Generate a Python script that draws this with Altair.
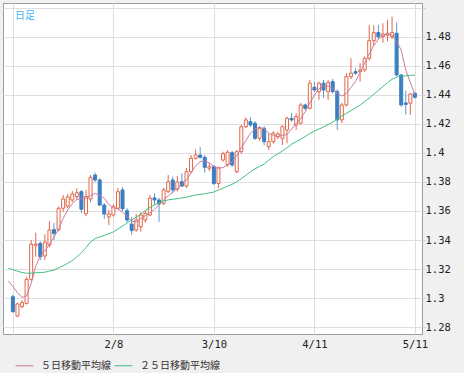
import altair as alt
import pandas as pd

# ---- data ----
idx = list(range(89))
opens = [1.3009, 1.2876, 1.2941, 1.2963, 1.3129, 1.3363, 1.3377, 1.3290, 1.3366, 1.3472,
         1.3469, 1.3619, 1.3634, 1.3676, 1.3699, 1.3733, 1.3580, 1.3683, 1.3848, 1.3814,
         1.3641, 1.3559, 1.3572, 1.3619, 1.3745, 1.3602, 1.3510, 1.3469, 1.3491, 1.3538,
         1.3572, 1.3690, 1.3676, 1.3653, 1.3733, 1.3814, 1.3750, 1.3802, 1.3772, 1.3871,
         1.3963, 1.3986, 1.3970, 1.3895, 1.3906, 1.3790, 1.3952, 1.3920, 1.4002, 1.3871,
         1.4009, 1.4181, 1.4216, 1.4205, 1.4101, 1.4170, 1.4043, 1.4078, 1.4112, 1.4101,
         1.4159, 1.4239, 1.4193, 1.4205, 1.4331, 1.4308, 1.4453, 1.4423, 1.4481, 1.4423,
         1.4492, 1.4423, 1.4228, 1.4331, 1.4526, 1.4561, 1.4561, 1.4572, 1.4653, 1.4774,
         1.4830, 1.4802, 1.4812, 1.4802, 1.4825, 1.4538, 1.4345, 1.4343, 1.4412]
highs = [1.3022, 1.2968, 1.2986, 1.3145, 1.3400, 1.3450, 1.3390, 1.3440, 1.3530, 1.3517,
         1.3630, 1.3710, 1.3717, 1.3738, 1.3757, 1.3745, 1.3745, 1.3848, 1.3864, 1.3825,
         1.3655, 1.3607, 1.3648, 1.3759, 1.3765, 1.3620, 1.3560, 1.3579, 1.3590, 1.3600,
         1.3710, 1.3722, 1.3690, 1.3760, 1.3848, 1.3837, 1.3840, 1.3860, 1.3897, 1.3986,
         1.4025, 1.4040, 1.3985, 1.3930, 1.3917, 1.3905, 1.4009, 1.4020, 1.4015, 1.4020,
         1.4195, 1.4244, 1.4246, 1.4220, 1.4185, 1.4185, 1.4136, 1.4150, 1.4145, 1.4190,
         1.4250, 1.4274, 1.4274, 1.4345, 1.4340, 1.4503, 1.4492, 1.4492, 1.4503, 1.4503,
         1.4510, 1.4440, 1.4345, 1.4550, 1.4653, 1.4584, 1.4619, 1.4665, 1.4883, 1.4880,
         1.4883, 1.4894, 1.4917, 1.4940, 1.4900, 1.4545, 1.4430, 1.4412, 1.4420]
lows = [1.2898, 1.2867, 1.2930, 1.2955, 1.3120, 1.3285, 1.3262, 1.3262, 1.3350, 1.3400,
        1.3460, 1.3593, 1.3620, 1.3660, 1.3680, 1.3586, 1.3565, 1.3660, 1.3800, 1.3635,
        1.3545, 1.3503, 1.3560, 1.3612, 1.3600, 1.3520, 1.3435, 1.3457, 1.3457, 1.3520,
        1.3565, 1.3641, 1.3526, 1.3640, 1.3725, 1.3722, 1.3735, 1.3765, 1.3760, 1.3860,
        1.3955, 1.3960, 1.3865, 1.3875, 1.3779, 1.3757, 1.3940, 1.3905, 1.3905, 1.3860,
        1.3995, 1.4170, 1.4180, 1.4090, 1.4085, 1.4055, 1.4021, 1.4065, 1.4095, 1.4055,
        1.4067, 1.4216, 1.4159, 1.4195, 1.4295, 1.4300, 1.4423, 1.4366, 1.4377, 1.4366,
        1.4410, 1.4159, 1.4205, 1.4320, 1.4510, 1.4538, 1.4492, 1.4560, 1.4640, 1.4740,
        1.4780, 1.4760, 1.4770, 1.4785, 1.4530, 1.4320, 1.4265, 1.4262, 1.4375]
closes = [1.2906, 1.2959, 1.2968, 1.3129, 1.3370, 1.3372, 1.3285, 1.3386, 1.3469, 1.3445,
          1.3619, 1.3683, 1.3697, 1.3717, 1.3726, 1.3612, 1.3700, 1.3832, 1.3814, 1.3641,
          1.3579, 1.3579, 1.3630, 1.3733, 1.3615, 1.3538, 1.3465, 1.3538, 1.3572, 1.3584,
          1.3688, 1.3676, 1.3648, 1.3745, 1.3802, 1.3745, 1.3800, 1.3772, 1.3871, 1.3963,
          1.3986, 1.3970, 1.3901, 1.3905, 1.3790, 1.3897, 1.3995, 1.4005, 1.3917, 1.4009,
          1.4181, 1.4228, 1.4193, 1.4101, 1.4170, 1.4078, 1.4078, 1.4136, 1.4131, 1.4181,
          1.4239, 1.4228, 1.4251, 1.4331, 1.4308, 1.4481, 1.4434, 1.4481, 1.4434, 1.4485,
          1.4423, 1.4228, 1.4331, 1.4526, 1.4550, 1.4550, 1.4572, 1.4653, 1.4774, 1.4830,
          1.4802, 1.4820, 1.4825, 1.4830, 1.4538, 1.4331, 1.4335, 1.4407, 1.4384]

ma_idx = list(range(-1, 89))
ma5 = [1.3119, 1.3079, 1.3037, 1.3004, 1.3016, 1.3100, 1.3220, 1.3290, 1.3325, 1.3373,
       1.3419, 1.3477, 1.3548, 1.3607, 1.3649, 1.3680, 1.3687, 1.3688, 1.3706, 1.3721,
       1.3709, 1.3688, 1.3645, 1.3622, 1.3614, 1.3592, 1.3562, 1.3529, 1.3524, 1.3549,
       1.3568, 1.3587, 1.3610, 1.3644, 1.3677, 1.3703, 1.3730, 1.3755, 1.3785, 1.3811,
       1.3865, 1.3911, 1.3939, 1.3945, 1.3932, 1.3907, 1.3896, 1.3899, 1.3918, 1.3941,
       1.3981, 1.4036, 1.4086, 1.4135, 1.4167, 1.4179, 1.4167, 1.4136, 1.4121, 1.4113,
       1.4122, 1.4127, 1.4165, 1.4203, 1.4236, 1.4285, 1.4345, 1.4399, 1.4443, 1.4462,
       1.4460, 1.4448, 1.4411, 1.4393, 1.4410, 1.4451, 1.4494, 1.4554, 1.4619, 1.4682,
       1.4741, 1.4784, 1.4810, 1.4821, 1.4813, 1.4770, 1.4709, 1.4572, 1.4488, 1.4400]
ma25 = [1.3205, 1.3195, 1.3185, 1.3176, 1.3171, 1.3172, 1.3174, 1.3176, 1.3178, 1.3186,
        1.3193, 1.3208, 1.3222, 1.3240, 1.3257, 1.3284, 1.3313, 1.3347, 1.3386, 1.3410,
        1.3421, 1.3432, 1.3443, 1.3456, 1.3476, 1.3496, 1.3518, 1.3539, 1.3558, 1.3578,
        1.3604, 1.3624, 1.3642, 1.3657, 1.3669, 1.3677, 1.3681, 1.3685, 1.3690, 1.3695,
        1.3703, 1.3710, 1.3714, 1.3719, 1.3725, 1.3731, 1.3744, 1.3758, 1.3771, 1.3784,
        1.3802, 1.3823, 1.3846, 1.3870, 1.3891, 1.3907, 1.3924, 1.3950, 1.3975, 1.3994,
        1.4013, 1.4036, 1.4060, 1.4078, 1.4094, 1.4113, 1.4134, 1.4152, 1.4165, 1.4179,
        1.4196, 1.4213, 1.4234, 1.4255, 1.4273, 1.4292, 1.4311, 1.4330, 1.4354, 1.4379,
        1.4405, 1.4431, 1.4458, 1.4485, 1.4508, 1.4523, 1.4529, 1.4532, 1.4535, 1.4537]

tick_idx = [0, 22, 44, 66, 88]
tick_labels = ["", "2/8", "3/10", "4/11", "5/11"]
y_ticks = [1.28, 1.30, 1.32, 1.34, 1.36, 1.38, 1.40, 1.42, 1.44, 1.46, 1.48, 1.50]
series_names = ["５日移動平均線", "２５日移動平均線"]
series_colors = ["#cc7a9e", "#3fc07f"]

UP = "#e3664a"
DOWN = "#3b7fc2"
DOWN_WICK = "#5d98d2"

df = pd.DataFrame({"i": idx, "open": opens, "high": highs, "low": lows, "close": closes})
ma_df = pd.DataFrame({
    "i": ma_idx + ma_idx,
    "v": ma5 + ma25,
    "s": [series_names[0]] * len(ma_idx) + [series_names[1]] * len(ma_idx),
})

label_map = "{" + ",".join(f"'{t}':'{l}'" for t, l in zip(tick_idx, tick_labels)) + "}"

xscale = alt.Scale(domain=[-1.068, 88.46], nice=False, zero=False)
yscale = alt.Scale(domain=[1.2752, 1.5034], nice=False, zero=False)

xaxis = alt.Axis(values=tick_idx, labelExpr=f"{label_map}[datum.value] || ''",
                 title=None, grid=True, ticks=False, domain=False, labelFlush=False,
                 labelPadding=5, labelAlign="center", labelOverlap=False)
yaxis = alt.Axis(values=y_ticks, format=".2~f",
                 labelExpr="datum.value > 1.49 ? '' : datum.label",
                 title=None, grid=True, ticks=True, tickSize=3, domain=False,
                 labelPadding=0, orient="right", labelFlush=False, labelOverlap=False)


def X():
    return alt.X("i:Q", scale=xscale, axis=xaxis, title=None)


def Y(field):
    return alt.Y(f"{field}:Q", scale=yscale, axis=yaxis, title=None)


up_f = "datum.close >= datum.open"
down_f = "datum.close < datum.open"

base = alt.Chart(df)
up_wick = base.transform_filter(up_f).mark_rule(color=UP, strokeWidth=1).encode(
    x=X(), y=Y("low"), y2="high:Q")
down_wick = base.transform_filter(down_f).mark_rule(color=DOWN_WICK, strokeWidth=1).encode(
    x=X(), y=Y("low"), y2="high:Q")
up_body = base.transform_filter(up_f).mark_bar(
    size=3, fill="white", stroke=UP, strokeWidth=1).encode(
    x=X(), y=Y("open"), y2="close:Q")
down_body = base.transform_filter(down_f).mark_bar(
    size=3, fill=DOWN, stroke=DOWN, strokeWidth=1).encode(
    x=X(), y=Y("open"), y2="close:Q")

lines = alt.Chart(ma_df).mark_line(strokeWidth=1, clip=True).encode(
    x=X(), y=Y("v"),
    color=alt.Color("s:N", scale=alt.Scale(domain=series_names, range=series_colors),
                    sort=series_names,
                    legend=alt.Legend(orient="none", legendX=12, legendY=353,
                                      direction="horizontal", title=None,
                                      symbolType="stroke", symbolSize=324,
                                      symbolStrokeWidth=1, labelFont="Noto Sans CJK JP",
                                      labelFontSize=10, labelColor="#333333",
                                      columnPadding=1, labelOffset=7, padding=0)),
    detail="s:N",
)

chart = alt.layer(up_wick, down_wick, up_body, down_body, lines).properties(
    width=419, height=331,
    padding={"left": 3, "top": 3, "right": 42, "bottom": 39},
    autosize=alt.AutoSizeParams(type="none"),
    title=alt.TitleParams("日足", anchor="start", orient="top", frame="group",
                          fontSize=10, font="Noto Sans CJK JP", fontWeight="normal",
                          color="#45b5e8", baseline="top", offset=0, dx=12, dy=18),
).configure(background="#f0f0f0").configure_view(
    fill="white", stroke="#9c9c9c", strokeWidth=1
).configure_axis(
    labelFont="DejaVu Sans Mono", labelFontSize=10.5, labelColor="#222222",
    gridColor="#dedede", gridWidth=1, tickColor="#cfcfcf"
)

chart.save("out.html", embed_options={"renderer": "svg", "actions": False})
